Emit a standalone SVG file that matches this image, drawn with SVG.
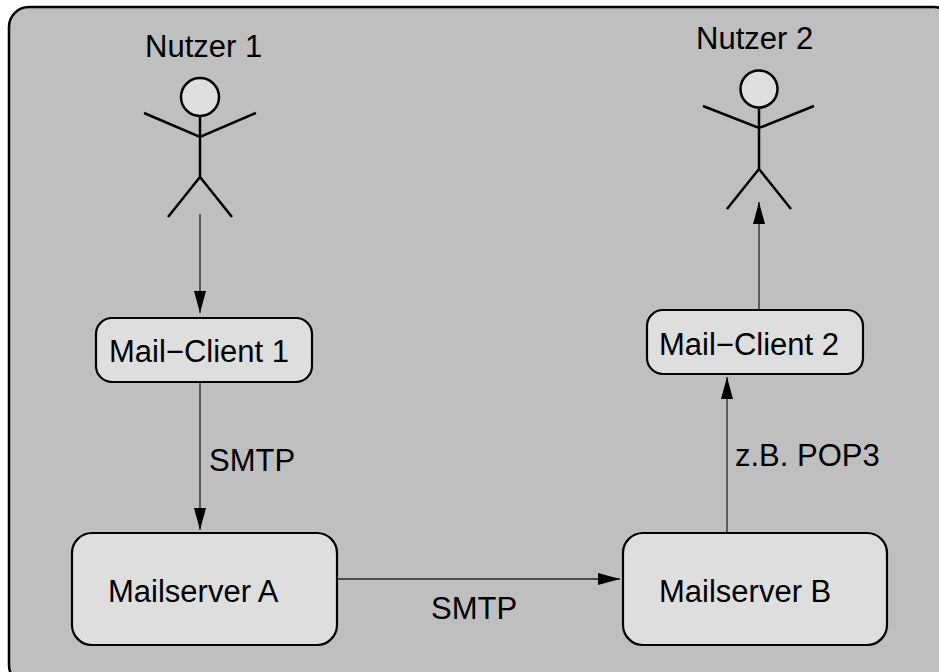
<svg xmlns="http://www.w3.org/2000/svg" width="939" height="672" viewBox="0 0 939 672">
<style>
text{font-family:"Liberation Sans",Arial,Helvetica,sans-serif;font-size:31px;fill:#000}
.box{fill:#dedede;stroke:#000;stroke-width:2.2}
.fig{fill:none;stroke:#000;stroke-width:2.5}
.con{stroke:#222;stroke-width:1.3;fill:none}
</style>
<defs>
<marker id="ah" markerUnits="userSpaceOnUse" markerWidth="24" markerHeight="14" refX="22" refY="6" orient="auto">
<path d="M0,0 L22,6 L0,12 Z" fill="#000"/>
</marker>
</defs>
<rect x="0" y="0" width="939" height="672" fill="#fff"/>
<rect id="frame" x="9" y="7" width="945" height="678" rx="20" fill="#bfbfbf" stroke="#000" stroke-width="2.5"/>
<g id="nutzer1">
<text x="145" y="57">Nutzer 1</text>
<circle cx="200" cy="97" r="19" fill="#dedede" stroke="#000" stroke-width="2.5"/>
<path class="fig" d="M200,116 V177 M144,113 L200,137 L256,113 M168,217 L200,177 L232,217"/>
</g>
<g id="nutzer2">
<text x="696" y="49">Nutzer 2</text>
<circle cx="759" cy="89" r="18.5" fill="#dedede" stroke="#000" stroke-width="2.5"/>
<path class="fig" d="M759,107.5 V169 M703,106 L759,128 L814,106 M727,209 L759,169 L791,209"/>
</g>
<g id="client1">
<rect class="box" x="96" y="318" width="216" height="64" rx="16"/>
<text x="109" y="362">Mail−Client 1</text>
</g>
<g id="client2">
<rect class="box" x="647" y="310" width="216" height="64" rx="16"/>
<text x="659" y="355">Mail−Client 2</text>
</g>
<g id="serverA">
<rect class="box" x="72" y="533" width="265" height="112" rx="20"/>
<text x="108" y="602">Mailserver A</text>
</g>
<g id="serverB">
<rect class="box" x="623" y="533" width="264" height="112" rx="20"/>
<text x="659" y="602">Mailserver B</text>
</g>
<g id="connectors">
<line class="con" x1="200" y1="214" x2="200" y2="313" marker-end="url(#ah)"/>
<line class="con" x1="200" y1="382" x2="200" y2="530" marker-end="url(#ah)"/>
<line class="con" x1="337" y1="579" x2="620" y2="579" marker-end="url(#ah)"/>
<line class="con" x1="727" y1="533" x2="727" y2="377" marker-end="url(#ah)"/>
<line class="con" x1="759" y1="310" x2="759" y2="202" marker-end="url(#ah)"/>
<text x="209" y="471">SMTP</text>
<text x="431" y="619">SMTP</text>
<text x="735" y="466">z.B. POP3</text>
</g>
</svg>
